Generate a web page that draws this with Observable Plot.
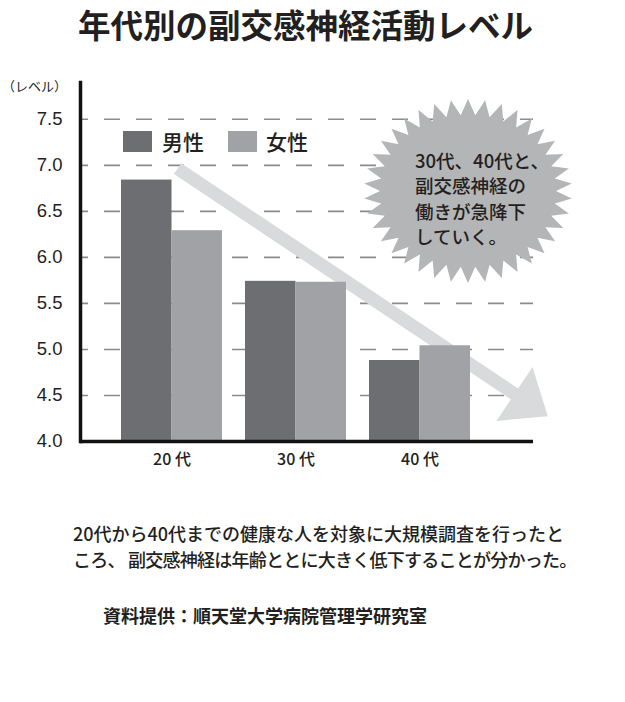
<!DOCTYPE html>
<html lang="ja">
<head>
<meta charset="utf-8">
<script src="https://cdn.jsdelivr.net/npm/d3@7"></script>
<script src="https://cdn.jsdelivr.net/npm/@observablehq/plot@0.6"></script>
<style>
html,body{margin:0;padding:0;background:#fff;overflow:hidden;}
#page{position:relative;width:625px;height:702px;font-family:"Noto Sans CJK JP","Noto Sans",sans-serif;color:#231f20;}
#chart{position:absolute;left:0;top:0;}
.abs{position:absolute;white-space:nowrap;line-height:1;}
#title{left:78px;top:8px;font-size:32.5px;font-weight:bold;}
#unit{left:2px;top:78.5px;font-size:13px;}
.sw{position:absolute;width:29px;height:21px;}
.lg{font-size:21px;top:131px;font-weight:500;}
.cap{font-size:18px;left:73px;font-weight:500;}
#src{left:103px;top:606px;font-size:18px;font-weight:bold;}
</style>
</head>
<body>
<div id="page">
  <div id="chart"></div>
  <div class="abs" id="title"></div>
  <div class="abs" id="unit"></div>
  <div class="sw" id="swM" style="left:123px;top:131px;"></div>
  <div class="abs lg" id="lgM" style="left:162px;"></div>
  <div class="sw" id="swF" style="left:228px;top:131px;"></div>
  <div class="abs lg" id="lgF" style="left:266px;"></div>
  <div class="abs cap" id="cap1" style="top:523.5px;"></div>
  <div class="abs cap" id="cap2" style="top:550px;letter-spacing:-0.75px;"></div>
  <div class="abs" id="src"></div>
</div>
<script>
// ---- data ----
const ages = ["20代", "30代", "40代"];
const ageLabels = ["20 代", "30 代", "40 代"];
const sexes = ["男性", "女性"];
const maleLevel = [6.84, 5.74, 4.88];
const femaleLevel = [6.29, 5.73, 5.04];
const yTicks = [4.0, 4.5, 5.0, 5.5, 6.0, 6.5, 7.0, 7.5];
const yMin = 4.0, yMax = 7.9;
const unitLabel = "（レベル）";
const titleText = "年代別の副交感神経活動レベル";
const calloutLines = ["30代、40代と、", "副交感神経の", "働きが急降下", "していく。"];
const captionLines = [
  "20代から40代までの健康な人を対象に大規模調査を行ったと",
  "ころ、 副交感神経は年齢ととに大きく低下することが分かった。"
];
const sourceText = "資料提供：順天堂大学病院管理学研究室";
// trend arrow annotation (from 20代 level to beyond 40代)
const trendFrom = {age: "20代", level: 6.96};
const trendTo = {age: "40代", level: 4.27};

// ---- styles ----
const maleColor = "#6d6e71";
const femaleColor = "#a1a2a5";
const arrowColor = "#d9dadb";
const burstColor = "#b4b5b7";
const ink = "#231f20";

const rows = [];
ages.forEach((a, i) => {
  rows.push({age: a, sex: sexes[0], level: maleLevel[i]});
  rows.push({age: a, sex: sexes[1], level: femaleLevel[i]});
});

const W = 625, H = 480, mL = 80, mR = 92, mT = 82, mB = 39;
const xOpts = {paddingInner: 0.189, paddingOuter: 0.414, align: 0.393};
const bw = d3.scaleBand().domain(ages).range([mL, W - mR])
  .paddingInner(xOpts.paddingInner).paddingOuter(xOpts.paddingOuter).align(xOpts.align).bandwidth();

const plot = Plot.plot({
  width: W, height: H,
  marginLeft: mL, marginRight: mR, marginTop: mT, marginBottom: mB,
  style: {background: "transparent", fontFamily: "'Liberation Sans', Arial, sans-serif", color: ink, overflow: "visible"},
  x: {domain: ages, ...xOpts},
  y: {domain: [yMin, yMax]},
  marks: [
    Plot.ruleY(yTicks.slice(1), {stroke: "#8a8a8a", strokeWidth: 1.6, strokeDasharray: "16,16", strokeDashoffset: 8}),
    Plot.barY(rows.filter(d => d.sex === sexes[0]), {x: "age", y1: d => yMin, y2: "level", fill: maleColor, insetRight: bw / 2}),
    Plot.barY(rows.filter(d => d.sex === sexes[1]), {x: "age", y1: d => yMin, y2: "level", fill: femaleColor, insetLeft: bw / 2}),
    Plot.ruleY([yMin], {stroke: "#111", strokeWidth: 3.5}),
    Plot.frame({anchor: "left", stroke: "#111", strokeWidth: 3.5}),
    Plot.axisY({ticks: yTicks, tickSize: 0, tickPadding: 18, tickFormat: d3.format(".1f"), label: null, fontSize: 18.5}),
    Plot.axisX({tickSize: 0, tickPadding: 12, tickFormat: d => ageLabels[ages.indexOf(d)], label: null,
      fontSize: 16, fontFamily: "'Noto Sans CJK JP', sans-serif", fontWeight: 500})
  ]
});
document.getElementById("chart").appendChild(plot);

// ---- annotations drawn with the plot's scales ----
const xs = plot.scale("x"), ys = plot.scale("y");
const band = xs.bandwidth;
const ns = "http://www.w3.org/2000/svg";
const S = [xs.apply(trendFrom.age) + band * 0.56, ys.apply(trendFrom.level)];
const T = [xs.apply(trendTo.age) + band * 1.77, ys.apply(trendTo.level)];
const L = Math.hypot(T[0] - S[0], T[1] - S[1]);
const u = [(T[0] - S[0]) / L, (T[1] - S[1]) / L];
const n = [-u[1], u[0]];
const headLen = 40, headHalf = 32.5, shaftHalf = 6.5;
const B = [T[0] - headLen * u[0], T[1] - headLen * u[1]];
const off = (p, k) => [p[0] + n[0] * k, p[1] + n[1] * k];
const pts = [off(S, shaftHalf), off(B, shaftHalf), off(B, headHalf), T, off(B, -headHalf), off(B, -shaftHalf), off(S, -shaftHalf)];
const arrow = document.createElementNS(ns, "polygon");
arrow.setAttribute("points", pts.map(p => p.join(",")).join(" "));
arrow.setAttribute("fill", arrowColor);
const grid = plot.querySelector('g[aria-label="rule"]');
if (grid) grid.parentNode.insertBefore(arrow, grid.nextSibling);
else plot.appendChild(arrow);

// starburst callout
const cx = 468, cy = 191, spikes = 38;
const ro = [104, 92], ri = [88, 76];
const bp = [];
for (let i = 0; i < spikes * 2; i++) {
  const a = -Math.PI / 2 + i * Math.PI / spikes;
  const r = i % 2 === 0 ? ro : ri;
  bp.push([cx + r[0] * Math.cos(a), cy + r[1] * Math.sin(a)]);
}
const burst = document.createElementNS(ns, "polygon");
burst.setAttribute("points", bp.map(p => p.join(",")).join(" "));
burst.setAttribute("fill", burstColor);
plot.appendChild(burst);
calloutLines.forEach((t, i) => {
  const tx = document.createElementNS(ns, "text");
  tx.setAttribute("x", 415);
  tx.setAttribute("y", 167.5 + 25.6 * i);
  tx.setAttribute("text-anchor", "start");
  tx.setAttribute("font-size", "18.5");
  tx.setAttribute("font-family", "'Noto Sans CJK JP', sans-serif");
  tx.setAttribute("font-weight", "500");
  tx.setAttribute("fill", ink);
  tx.textContent = t;
  plot.appendChild(tx);
});

// ---- html texts ----
document.getElementById("title").textContent = titleText;
document.getElementById("unit").textContent = unitLabel;
document.getElementById("swM").style.background = maleColor;
document.getElementById("swF").style.background = femaleColor;
document.getElementById("lgM").textContent = sexes[0];
document.getElementById("lgF").textContent = sexes[1];
document.getElementById("cap1").textContent = captionLines[0];
document.getElementById("cap2").textContent = captionLines[1];
document.getElementById("src").textContent = sourceText;
</script>
</body>
</html>
